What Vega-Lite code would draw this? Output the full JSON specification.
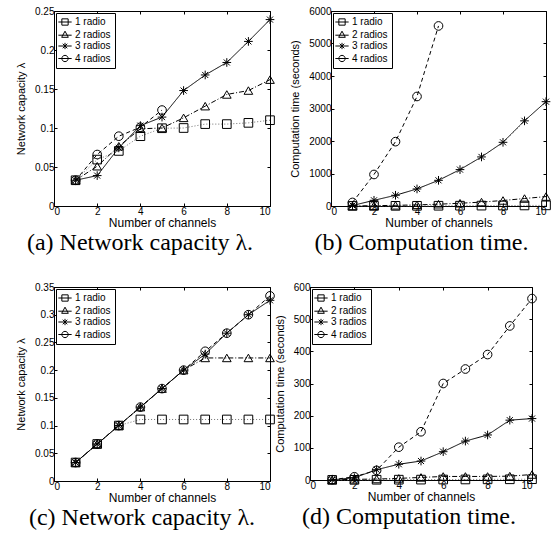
{
  "$schema": "https://vega.github.io/schema/vega-lite/v6.json",
  "padding": {"left": 15, "top": 5, "right": 0, "bottom": 0},
  "background": "white",
  "data": {"values": [
    {"p":"a","n":1,"r":"1 radio","v":0.033},{"p":"a","n":2,"r":"1 radio","v":0.0595},{"p":"a","n":3,"r":"1 radio","v":0.0706},{"p":"a","n":4,"r":"1 radio","v":0.0895},{"p":"a","n":5,"r":"1 radio","v":0.0997},{"p":"a","n":6,"r":"1 radio","v":0.1},{"p":"a","n":7,"r":"1 radio","v":0.105},{"p":"a","n":8,"r":"1 radio","v":0.105},{"p":"a","n":9,"r":"1 radio","v":0.1066},{"p":"a","n":10,"r":"1 radio","v":0.11},
    {"p":"a","n":1,"r":"2 radios","v":0.033},{"p":"a","n":2,"r":"2 radios","v":0.051},{"p":"a","n":3,"r":"2 radios","v":0.0766},{"p":"a","n":4,"r":"2 radios","v":0.099},{"p":"a","n":5,"r":"2 radios","v":0.1},{"p":"a","n":6,"r":"2 radios","v":0.113},{"p":"a","n":7,"r":"2 radios","v":0.128},{"p":"a","n":8,"r":"2 radios","v":0.143},{"p":"a","n":9,"r":"2 radios","v":0.148},{"p":"a","n":10,"r":"2 radios","v":0.162},
    {"p":"a","n":1,"r":"3 radios","v":0.033},{"p":"a","n":2,"r":"3 radios","v":0.039},{"p":"a","n":3,"r":"3 radios","v":0.0745},{"p":"a","n":4,"r":"3 radios","v":0.103},{"p":"a","n":5,"r":"3 radios","v":0.114},{"p":"a","n":6,"r":"3 radios","v":0.148},{"p":"a","n":7,"r":"3 radios","v":0.168},{"p":"a","n":8,"r":"3 radios","v":0.184},{"p":"a","n":9,"r":"3 radios","v":0.211},{"p":"a","n":10,"r":"3 radios","v":0.239},
    {"p":"a","n":1,"r":"4 radios","v":0.033},{"p":"a","n":2,"r":"4 radios","v":0.066},{"p":"a","n":3,"r":"4 radios","v":0.0895},{"p":"a","n":4,"r":"4 radios","v":0.101},{"p":"a","n":5,"r":"4 radios","v":0.123},
    {"p":"b","n":1,"r":"1 radio","v":2},{"p":"b","n":2,"r":"1 radio","v":3},{"p":"b","n":3,"r":"1 radio","v":5},{"p":"b","n":4,"r":"1 radio","v":6},{"p":"b","n":5,"r":"1 radio","v":8},{"p":"b","n":6,"r":"1 radio","v":10},{"p":"b","n":7,"r":"1 radio","v":12},{"p":"b","n":8,"r":"1 radio","v":14},{"p":"b","n":9,"r":"1 radio","v":17},{"p":"b","n":10,"r":"1 radio","v":20},
    {"p":"b","n":1,"r":"2 radios","v":3},{"p":"b","n":2,"r":"2 radios","v":10},{"p":"b","n":3,"r":"2 radios","v":20},{"p":"b","n":4,"r":"2 radios","v":35},{"p":"b","n":5,"r":"2 radios","v":55},{"p":"b","n":6,"r":"2 radios","v":85},{"p":"b","n":7,"r":"2 radios","v":120},{"p":"b","n":8,"r":"2 radios","v":170},{"p":"b","n":9,"r":"2 radios","v":230},{"p":"b","n":10,"r":"2 radios","v":290},
    {"p":"b","n":1,"r":"3 radios","v":15},{"p":"b","n":2,"r":"3 radios","v":175},{"p":"b","n":3,"r":"3 radios","v":330},{"p":"b","n":4,"r":"3 radios","v":525},{"p":"b","n":5,"r":"3 radios","v":790},{"p":"b","n":6,"r":"3 radios","v":1120},{"p":"b","n":7,"r":"3 radios","v":1510},{"p":"b","n":8,"r":"3 radios","v":1960},{"p":"b","n":9,"r":"3 radios","v":2620},{"p":"b","n":10,"r":"3 radios","v":3210},
    {"p":"b","n":1,"r":"4 radios","v":110},{"p":"b","n":2,"r":"4 radios","v":970},{"p":"b","n":3,"r":"4 radios","v":1980},{"p":"b","n":4,"r":"4 radios","v":3370},{"p":"b","n":5,"r":"4 radios","v":5540},
    {"p":"c","n":1,"r":"1 radio","v":0.0333},{"p":"c","n":2,"r":"1 radio","v":0.0667},{"p":"c","n":3,"r":"1 radio","v":0.1},{"p":"c","n":4,"r":"1 radio","v":0.111},{"p":"c","n":5,"r":"1 radio","v":0.111},{"p":"c","n":6,"r":"1 radio","v":0.111},{"p":"c","n":7,"r":"1 radio","v":0.111},{"p":"c","n":8,"r":"1 radio","v":0.111},{"p":"c","n":9,"r":"1 radio","v":0.111},{"p":"c","n":10,"r":"1 radio","v":0.111},
    {"p":"c","n":1,"r":"2 radios","v":0.0333},{"p":"c","n":2,"r":"2 radios","v":0.0667},{"p":"c","n":3,"r":"2 radios","v":0.1},{"p":"c","n":4,"r":"2 radios","v":0.1333},{"p":"c","n":5,"r":"2 radios","v":0.1667},{"p":"c","n":6,"r":"2 radios","v":0.2},{"p":"c","n":7,"r":"2 radios","v":0.222},{"p":"c","n":8,"r":"2 radios","v":0.222},{"p":"c","n":9,"r":"2 radios","v":0.222},{"p":"c","n":10,"r":"2 radios","v":0.222},
    {"p":"c","n":1,"r":"3 radios","v":0.0333},{"p":"c","n":2,"r":"3 radios","v":0.0667},{"p":"c","n":3,"r":"3 radios","v":0.1},{"p":"c","n":4,"r":"3 radios","v":0.1333},{"p":"c","n":5,"r":"3 radios","v":0.1667},{"p":"c","n":6,"r":"3 radios","v":0.2},{"p":"c","n":7,"r":"3 radios","v":0.229},{"p":"c","n":8,"r":"3 radios","v":0.2667},{"p":"c","n":9,"r":"3 radios","v":0.3},{"p":"c","n":10,"r":"3 radios","v":0.326},
    {"p":"c","n":1,"r":"4 radios","v":0.0333},{"p":"c","n":2,"r":"4 radios","v":0.0667},{"p":"c","n":3,"r":"4 radios","v":0.1},{"p":"c","n":4,"r":"4 radios","v":0.1333},{"p":"c","n":5,"r":"4 radios","v":0.1667},{"p":"c","n":6,"r":"4 radios","v":0.2},{"p":"c","n":7,"r":"4 radios","v":0.234},{"p":"c","n":8,"r":"4 radios","v":0.2667},{"p":"c","n":9,"r":"4 radios","v":0.3},{"p":"c","n":10,"r":"4 radios","v":0.334},
    {"p":"d","n":1,"r":"1 radio","v":0.3},{"p":"d","n":2,"r":"1 radio","v":0.5},{"p":"d","n":3,"r":"1 radio","v":0.8},{"p":"d","n":4,"r":"1 radio","v":1},{"p":"d","n":5,"r":"1 radio","v":1.2},{"p":"d","n":6,"r":"1 radio","v":1.5},{"p":"d","n":7,"r":"1 radio","v":1.7},{"p":"d","n":8,"r":"1 radio","v":2},{"p":"d","n":9,"r":"1 radio","v":2.2},{"p":"d","n":10,"r":"1 radio","v":2.5},
    {"p":"d","n":1,"r":"2 radios","v":0.5},{"p":"d","n":2,"r":"2 radios","v":2},{"p":"d","n":3,"r":"2 radios","v":3},{"p":"d","n":4,"r":"2 radios","v":5},{"p":"d","n":5,"r":"2 radios","v":8},{"p":"d","n":6,"r":"2 radios","v":11},{"p":"d","n":7,"r":"2 radios","v":11},{"p":"d","n":8,"r":"2 radios","v":11},{"p":"d","n":9,"r":"2 radios","v":12},{"p":"d","n":10,"r":"2 radios","v":17},
    {"p":"d","n":1,"r":"3 radios","v":0.6},{"p":"d","n":2,"r":"3 radios","v":7},{"p":"d","n":3,"r":"3 radios","v":32},{"p":"d","n":4,"r":"3 radios","v":49},{"p":"d","n":5,"r":"3 radios","v":59},{"p":"d","n":6,"r":"3 radios","v":88},{"p":"d","n":7,"r":"3 radios","v":121},{"p":"d","n":8,"r":"3 radios","v":140},{"p":"d","n":9,"r":"3 radios","v":186},{"p":"d","n":10,"r":"3 radios","v":191},
    {"p":"d","n":1,"r":"4 radios","v":1},{"p":"d","n":2,"r":"4 radios","v":10},{"p":"d","n":3,"r":"4 radios","v":30},{"p":"d","n":4,"r":"4 radios","v":102},{"p":"d","n":5,"r":"4 radios","v":150},{"p":"d","n":6,"r":"4 radios","v":300},{"p":"d","n":7,"r":"4 radios","v":345},{"p":"d","n":8,"r":"4 radios","v":390},{"p":"d","n":9,"r":"4 radios","v":479},{"p":"d","n":10,"r":"4 radios","v":564}
  ]},
  "spacing": 25,
  "resolve": {"scale": {"shape": "independent", "strokeDash": "independent"}},
  "vconcat": [
    {"spacing": 12,
     "resolve": {"scale": {"shape": "independent", "strokeDash": "independent"}},
     "hconcat": [
      {"width": 216, "height": 195,
       "title": {"text": "(a) Network capacity λ.", "dx": -22},
       "transform": [{"filter": "datum.p === 'a'"}],
       "resolve": {"scale": {"shape": "independent"}, "axis": {"x": "independent", "y": "independent"}},
       "encoding": {
         "x": {"field": "n", "type": "quantitative", "scale": {"domain": [0, 10]}, "axis": {"values": [0,2,4,6,8,10], "labelOverlap": false, "title": "Number of channels"}},
         "y": {"field": "v", "type": "quantitative", "scale": {"domain": [0, 0.25]}, "axis": {"values": [0,0.05,0.1,0.15,0.2,0.25], "labelOverlap": false, "format": "~g", "title": "Network capacity λ"}}
       },
       "layer": [
         {"mark": {"type": "line", "color": "black", "strokeWidth": 1},
          "encoding": {"strokeDash": {"field": "r", "type": "nominal", "scale": {"range": [[1,2],[5,2,1,2],[1,0],[4,3]]}, "legend": null},
                       "color": {"field": "r", "type": "nominal", "scale": {"range": ["#707070","black","black","black"]}, "legend": null}}},
         {"mark": {"type": "point", "filled": false, "color": "black", "size": 75, "strokeWidth": 1, "opacity": 1},
          "encoding": {
            "x": {"field": "n", "type": "quantitative", "axis": {"orient": "top", "values": [0,2,4,6,8,10], "labels": false, "title": null, "domain": false}},
            "y": {"field": "v", "type": "quantitative", "axis": {"orient": "right", "values": [0,0.05,0.1,0.15,0.2,0.25], "labels": false, "title": null, "domain": false}},
            "shape": {"field": "r", "type": "nominal", "scale": {"range": ["square","triangle-up","M-1,0H1M0,-1V1M-0.7,-0.7L0.7,0.7M-0.7,0.7L0.7,-0.7","circle"]}, "legend": null}}},
         {"transform": [{"filter": "false"}],
          "mark": {"type": "point", "filled": false, "color": "black", "strokeWidth": 1, "opacity": 1},
          "encoding": {
            "x": {"field": "n", "type": "quantitative", "axis": null},
            "y": {"field": "v", "type": "quantitative", "axis": null},
            "shape": {"field": "r", "type": "nominal", "scale": {"domain": ["1 radio","2 radios","3 radios","4 radios"], "range": ["M-1.9,0H1.9M-0.9,-0.9H0.9V0.9H-0.9Z","M-1.9,0.2H1.9M0,-0.95L0.95,0.8H-0.95Z","M-1.9,0H1.9M0,-0.9V0.9M-0.65,-0.65L0.65,0.65M-0.65,0.65L0.65,-0.65","M-1.9,0H1.9M0.9,0A0.9,0.9,0,1,1,-0.9,0A0.9,0.9,0,1,1,0.9,0"]}, "legend": {"orient": "top-left"}}}}
       ]},
      {"width": 215, "height": 195,
       "title": {"text": "(b) Computation time.", "dx": -17},
       "transform": [{"filter": "datum.p === 'b'"}],
       "resolve": {"scale": {"shape": "independent"}, "axis": {"x": "independent", "y": "independent"}},
       "encoding": {
         "x": {"field": "n", "type": "quantitative", "scale": {"domain": [0, 10]}, "axis": {"values": [0,2,4,6,8,10], "labelOverlap": false, "title": "Number of channels"}},
         "y": {"field": "v", "type": "quantitative", "scale": {"domain": [0, 6000]}, "axis": {"values": [0,1000,2000,3000,4000,5000,6000], "labelOverlap": false, "format": "d", "title": "Computation time (seconds)"}}
       },
       "layer": [
         {"mark": {"type": "line", "color": "black", "strokeWidth": 1},
          "encoding": {"strokeDash": {"field": "r", "type": "nominal", "scale": {"range": [[1,2],[5,2,1,2],[1,0],[4,3]]}, "legend": null},
                       "color": {"field": "r", "type": "nominal", "scale": {"range": ["#707070","black","black","black"]}, "legend": null}}},
         {"mark": {"type": "point", "filled": false, "color": "black", "size": 75, "strokeWidth": 1, "opacity": 1},
          "encoding": {
            "x": {"field": "n", "type": "quantitative", "axis": {"orient": "top", "values": [0,2,4,6,8,10], "labels": false, "title": null, "domain": false}},
            "y": {"field": "v", "type": "quantitative", "axis": {"orient": "right", "values": [0,1000,2000,3000,4000,5000,6000], "labels": false, "title": null, "domain": false}},
            "shape": {"field": "r", "type": "nominal", "scale": {"range": ["square","triangle-up","M-1,0H1M0,-1V1M-0.7,-0.7L0.7,0.7M-0.7,0.7L0.7,-0.7","circle"]}, "legend": null}}},
         {"transform": [{"filter": "false"}],
          "mark": {"type": "point", "filled": false, "color": "black", "strokeWidth": 1, "opacity": 1},
          "encoding": {
            "x": {"field": "n", "type": "quantitative", "axis": null},
            "y": {"field": "v", "type": "quantitative", "axis": null},
            "shape": {"field": "r", "type": "nominal", "scale": {"domain": ["1 radio","2 radios","3 radios","4 radios"], "range": ["M-1.9,0H1.9M-0.9,-0.9H0.9V0.9H-0.9Z","M-1.9,0.2H1.9M0,-0.95L0.95,0.8H-0.95Z","M-1.9,0H1.9M0,-0.9V0.9M-0.65,-0.65L0.65,0.65M-0.65,0.65L0.65,-0.65","M-1.9,0H1.9M0.9,0A0.9,0.9,0,1,1,-0.9,0A0.9,0.9,0,1,1,0.9,0"]}, "legend": {"orient": "top-left"}}}}
       ]}
    ]},
    {"spacing": -4,
     "resolve": {"scale": {"shape": "independent", "strokeDash": "independent"}},
     "hconcat": [
      {"width": 216, "height": 194,
       "title": {"text": "(c) Network capacity λ.", "dx": -20},
       "transform": [{"filter": "datum.p === 'c'"}],
       "resolve": {"scale": {"shape": "independent"}, "axis": {"x": "independent", "y": "independent"}},
       "encoding": {
         "x": {"field": "n", "type": "quantitative", "scale": {"domain": [0, 10]}, "axis": {"values": [0,2,4,6,8,10], "labelOverlap": false, "title": "Number of channels"}},
         "y": {"field": "v", "type": "quantitative", "scale": {"domain": [0, 0.35]}, "axis": {"values": [0,0.05,0.1,0.15,0.2,0.25,0.3,0.35], "labelOverlap": false, "format": "~g", "title": "Network capacity λ"}}
       },
       "layer": [
         {"mark": {"type": "line", "color": "black", "strokeWidth": 1},
          "encoding": {"strokeDash": {"field": "r", "type": "nominal", "scale": {"range": [[1,2],[5,2,1,2],[1,0],[4,3]]}, "legend": null},
                       "color": {"field": "r", "type": "nominal", "scale": {"range": ["#707070","black","black","black"]}, "legend": null}}},
         {"mark": {"type": "point", "filled": false, "color": "black", "size": 75, "strokeWidth": 1, "opacity": 1},
          "encoding": {
            "x": {"field": "n", "type": "quantitative", "axis": {"orient": "top", "values": [0,2,4,6,8,10], "labels": false, "title": null, "domain": false}},
            "y": {"field": "v", "type": "quantitative", "axis": {"orient": "right", "values": [0,0.05,0.1,0.15,0.2,0.25,0.3,0.35], "labels": false, "title": null, "domain": false}},
            "shape": {"field": "r", "type": "nominal", "scale": {"range": ["square","triangle-up","M-1,0H1M0,-1V1M-0.7,-0.7L0.7,0.7M-0.7,0.7L0.7,-0.7","circle"]}, "legend": null}}},
         {"transform": [{"filter": "false"}],
          "mark": {"type": "point", "filled": false, "color": "black", "strokeWidth": 1, "opacity": 1},
          "encoding": {
            "x": {"field": "n", "type": "quantitative", "axis": null},
            "y": {"field": "v", "type": "quantitative", "axis": null},
            "shape": {"field": "r", "type": "nominal", "scale": {"domain": ["1 radio","2 radios","3 radios","4 radios"], "range": ["M-1.9,0H1.9M-0.9,-0.9H0.9V0.9H-0.9Z","M-1.9,0.2H1.9M0,-0.95L0.95,0.8H-0.95Z","M-1.9,0H1.9M0,-0.9V0.9M-0.65,-0.65L0.65,0.65M-0.65,0.65L0.65,-0.65","M-1.9,0H1.9M0.9,0A0.9,0.9,0,1,1,-0.9,0A0.9,0.9,0,1,1,0.9,0"]}, "legend": {"orient": "top-left"}}}}
       ]},
      {"width": 222, "height": 193,
       "title": {"text": "(d) Computation time.", "dx": -12},
       "transform": [{"filter": "datum.p === 'd'"}],
       "resolve": {"scale": {"shape": "independent"}, "axis": {"x": "independent", "y": "independent"}},
       "encoding": {
         "x": {"field": "n", "type": "quantitative", "scale": {"domain": [0, 10]}, "axis": {"values": [0,2,4,6,8,10], "labelOverlap": false, "title": "Number of channels"}},
         "y": {"field": "v", "type": "quantitative", "scale": {"domain": [0, 600]}, "axis": {"values": [0,100,200,300,400,500,600], "labelOverlap": false, "format": "d", "title": "Computation time (seconds)"}}
       },
       "layer": [
         {"mark": {"type": "line", "color": "black", "strokeWidth": 1},
          "encoding": {"strokeDash": {"field": "r", "type": "nominal", "scale": {"range": [[1,2],[5,2,1,2],[1,0],[4,3]]}, "legend": null},
                       "color": {"field": "r", "type": "nominal", "scale": {"range": ["#707070","black","black","black"]}, "legend": null}}},
         {"mark": {"type": "point", "filled": false, "color": "black", "size": 75, "strokeWidth": 1, "opacity": 1},
          "encoding": {
            "x": {"field": "n", "type": "quantitative", "axis": {"orient": "top", "values": [0,2,4,6,8,10], "labels": false, "title": null, "domain": false}},
            "y": {"field": "v", "type": "quantitative", "axis": {"orient": "right", "values": [0,100,200,300,400,500,600], "labels": false, "title": null, "domain": false}},
            "shape": {"field": "r", "type": "nominal", "scale": {"range": ["square","triangle-up","M-1,0H1M0,-1V1M-0.7,-0.7L0.7,0.7M-0.7,0.7L0.7,-0.7","circle"]}, "legend": null}}},
         {"transform": [{"filter": "false"}],
          "mark": {"type": "point", "filled": false, "color": "black", "strokeWidth": 1, "opacity": 1},
          "encoding": {
            "x": {"field": "n", "type": "quantitative", "axis": null},
            "y": {"field": "v", "type": "quantitative", "axis": null},
            "shape": {"field": "r", "type": "nominal", "scale": {"domain": ["1 radio","2 radios","3 radios","4 radios"], "range": ["M-1.9,0H1.9M-0.9,-0.9H0.9V0.9H-0.9Z","M-1.9,0.2H1.9M0,-0.95L0.95,0.8H-0.95Z","M-1.9,0H1.9M0,-0.9V0.9M-0.65,-0.65L0.65,0.65M-0.65,0.65L0.65,-0.65","M-1.9,0H1.9M0.9,0A0.9,0.9,0,1,1,-0.9,0A0.9,0.9,0,1,1,0.9,0"]}, "legend": {"orient": "top-left"}}}}
       ]}
    ]}
  ],
  "config": {
    "view": {"stroke": "black", "strokeWidth": 1},
    "axis": {"grid": false, "domainColor": "black", "tickColor": "black", "tickSize": -3, "labelPadding": 3, "labelOverlap": false,
             "labelFont": "Liberation Sans", "labelFontSize": 10, "labelColor": "black",
             "titleFont": "Liberation Sans", "titleFontSize": 12, "titleFontWeight": "normal", "titleColor": "black"},
    "axisX": {"titlePadding": 1},
    "axisY": {"titlePadding": 8, "titleFontSize": 11},
    "title": {"orient": "bottom", "anchor": "middle", "font": "Liberation Serif", "fontSize": 24, "fontWeight": "normal", "color": "black", "offset": 3},
    "legend": {"title": null, "strokeColor": "black", "fillColor": "white", "padding": 4, "offset": 2, "rowPadding": 0.5,
               "labelFont": "Liberation Sans", "labelFontSize": 10, "labelColor": "black", "labelOffset": 5,
               "symbolSize": 49, "symbolStrokeColor": "black", "symbolFillColor": "transparent", "symbolStrokeWidth": 1,
               "symbolLimit": 10}
  }
}
